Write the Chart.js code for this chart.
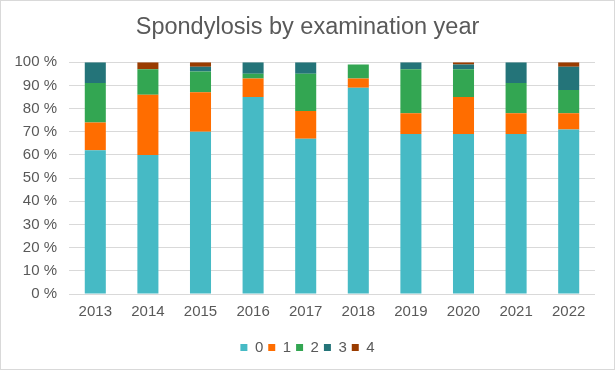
<!DOCTYPE html>
<html><head><meta charset="utf-8">
<script src="https://cdn.jsdelivr.net/npm/chart.js@4/dist/chart.umd.min.js"></script>
<style>
html,body{margin:0;padding:0;background:#fff;}
#wrap{width:615px;height:370px;box-sizing:border-box;border:1px solid #d9d9d9;}
canvas{display:block;}
</style></head>
<body><div id="wrap"><canvas id="c" width="613" height="368"></canvas></div>
<script>
const years = ["2013","2014","2015","2016","2017","2018","2019","2020","2021","2022"];
const grade0 = [62,60,70,85,67,89,69,69,69,71];
const grade1 = [12,26,17,8,12,4,9,16,9,7];
const grade2 = [17,11,9,2,16,6,19,12,13,10];
const grade3 = [9,0,2,5,5,0,3,2,9,10];
const grade4 = [0,3,2,0,0,0,0,1,0,2];
const seriesNames = ["0","1","2","3","4"];
const colors = ["#46BAC5","#FF6D00","#33A652","#247479","#9A3C00"];
const allData = [grade0,grade1,grade2,grade3,grade4];
const font = "'Liberation Sans', Arial, sans-serif";
new Chart(document.getElementById('c'), {
  type:'bar',
  data:{labels:years, datasets: allData.map((d,i)=>({label:seriesNames[i], data:d, backgroundColor:colors[i], borderWidth:0, barPercentage:0.4, categoryPercentage:1, yAxisID:'y'}))},
  options:{
    responsive:false, animation:false,
    layout:{padding:{left:0,right:0,top:0,bottom:4}},
    plugins:{
      title:{display:true,text:'Spondylosis by examination year',color:'#595959',font:{family:font,size:23.5,weight:'normal'},padding:{top:12,bottom:21}},
      legend:{position:'bottom',labels:{color:'#595959',font:{family:font,size:15},boxWidth:7,boxHeight:7,padding:5,
        generateLabels(chart){return chart.data.datasets.map((ds,i)=>({text:ds.label,fillStyle:ds.backgroundColor,strokeStyle:ds.backgroundColor,lineWidth:0,datasetIndex:i,fontColor:'#595959'}));}}},
      tooltip:{enabled:false}
    },
    scales:{
      x:{stacked:true,grid:{display:false,drawTicks:false},border:{display:false},ticks:{color:'#595959',font:{family:font,size:15},padding:9},
         afterFit(s){s.height=41;}},
      y:{stacked:true,min:0,max:100,ticks:{stepSize:10,color:'#595959',font:{family:font,size:15},padding:12,callback:v=>v+' %'},
         grid:{color:'#d9d9d9',lineWidth:1,drawTicks:false},border:{display:false},
         afterFit(s){s.width=68;}},
      yr:{position:'right',display:true,min:0,max:100,ticks:{display:false},grid:{display:false,drawTicks:false},border:{display:false},
         afterFit(s){s.width=19;}}
    }
  }
});
</script></body></html>
